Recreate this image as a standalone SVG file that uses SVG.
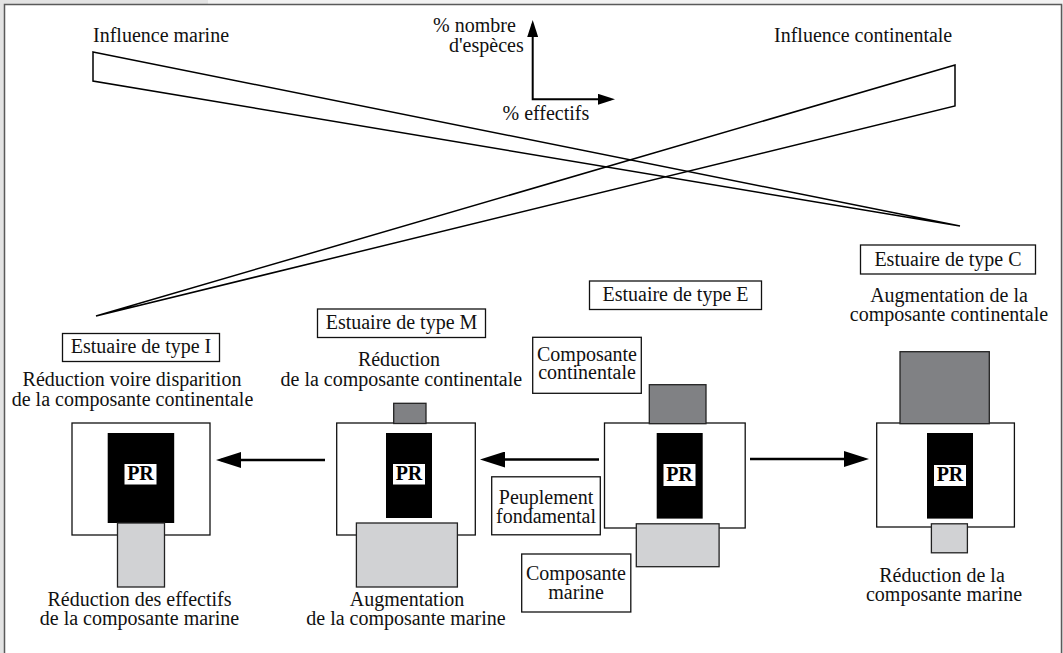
<svg xmlns="http://www.w3.org/2000/svg" width="1063" height="653" viewBox="0 0 1063 653">
<defs>
<style>
.t{font-family:"Liberation Serif","Times New Roman",serif;font-size:20px;fill:#111}
.c{text-anchor:middle}
.pr{font-family:"Liberation Serif","Times New Roman",serif;font-size:20px;font-weight:bold;fill:#000;text-anchor:middle}
.box{fill:#fff;stroke:#111;stroke-width:1.3}
.lbl{fill:#fff;stroke:#111;stroke-width:1.3}
.blk{fill:#000}
.prbg{fill:#fff}
.dg{fill:#808184;stroke:#222;stroke-width:1.3}
.lg{fill:#d1d2d4;stroke:#222;stroke-width:1.3}
.wedge{fill:none;stroke:#000;stroke-width:1.5;stroke-linejoin:miter}
.arr{fill:none;stroke:#000;stroke-width:2.6}
.ax{fill:none;stroke:#000;stroke-width:2}
</style>
<marker id="ah" viewBox="0 0 25 16" refX="20" refY="8" markerWidth="25" markerHeight="16" markerUnits="userSpaceOnUse" orient="auto">
<path d="M0,0 L25,8 L0,16 Z" fill="#000"/>
</marker>
<marker id="axh" viewBox="0 0 17 11" refX="13" refY="5.5" markerWidth="17" markerHeight="11" markerUnits="userSpaceOnUse" orient="auto-start-reverse">
<path d="M0,0 L17,5.5 L0,11 Z" fill="#000"/>
</marker>
</defs>

<rect x="0" y="0" width="1063" height="653" fill="#e3e3e3"/>
<rect x="208" y="0" width="855" height="5" fill="#f2f2f2"/>
<rect x="4.5" y="4.5" width="1057" height="670" fill="#fff" stroke="#5a5a5a" stroke-width="1.5"/>

<g id="influence-marine">
<text class="t" x="93" y="42">Influence marine</text>
<polygon class="wedge" points="93,52 960,226 93,81"/>
</g>
<g id="influence-continentale">
<text class="t" x="774" y="42">Influence continentale</text>
<polygon class="wedge" points="955,65 96,316 955,106"/>
</g>

<g id="axes-labels">
<text class="t" x="433" y="32">% nombre</text>
<text class="t" x="449" y="52">d'espèces</text>
<text class="t" x="502.5" y="120">% effectifs</text>
</g>

<g id="connectors">
<polyline class="ax" points="532.7,24 532.7,99.3 611,99.3" marker-start="url(#axh)" marker-end="url(#axh)"/>
<line class="arr" x1="325" y1="460" x2="221" y2="460" marker-end="url(#ah)"/>
<line class="arr" x1="599" y1="459.5" x2="485" y2="459.5" marker-end="url(#ah)"/>
<line class="arr" x1="750" y1="459" x2="864" y2="459" marker-end="url(#ah)"/>
</g>

<g id="estuaire-I">
<rect class="lbl" x="62.5" y="333.5" width="157" height="28"/>
<text class="t c" x="141" y="353">Estuaire de type I</text>
<text class="t c" x="132" y="386">Réduction voire disparition</text>
<text class="t c" x="132.5" y="405.5">de la composante continentale</text>
<rect class="box" x="72" y="423" width="138" height="112"/>
<rect class="blk" x="107.7" y="433" width="66.5" height="90"/>
<rect class="lg" x="117.5" y="523" width="47" height="64"/>
<rect class="prbg" x="124.5" y="464" width="32" height="20.5"/>
<text class="pr" x="140.5" y="480">PR</text>
<text class="t c" x="139.5" y="606">Réduction des effectifs</text>
<text class="t c" x="139.5" y="625">de la composante marine</text>
</g>

<g id="estuaire-M">
<rect class="lbl" x="317.5" y="309" width="168" height="28.5"/>
<text class="t c" x="401.5" y="329">Estuaire de type M</text>
<text class="t c" x="399" y="366">Réduction</text>
<text class="t c" x="401.3" y="385.5">de la composante continentale</text>
<rect class="box" x="336.7" y="423" width="138.6" height="112"/>
<rect class="dg" x="393.7" y="403.3" width="32.3" height="20.2"/>
<rect class="blk" x="386" y="433" width="46" height="85"/>
<rect class="lg" x="356.4" y="523" width="101" height="64"/>
<rect class="prbg" x="393" y="464" width="32" height="20.5"/>
<text class="pr" x="409" y="480">PR</text>
<text class="t c" x="407" y="606">Augmentation</text>
<text class="t c" x="406" y="625">de la composante marine</text>
</g>

<g id="estuaire-E">
<rect class="lbl" x="589.5" y="281" width="172" height="28.5"/>
<text class="t c" x="675.5" y="301">Estuaire de type E</text>
<rect class="box" x="604.5" y="423" width="140.7" height="105"/>
<rect class="dg" x="649.3" y="384.7" width="56.7" height="39"/>
<rect class="blk" x="656.7" y="433" width="46" height="85.6"/>
<rect class="lg" x="636.3" y="523.8" width="82.8" height="42.9"/>
<rect class="prbg" x="663.5" y="464" width="32" height="22"/>
<text class="pr" x="679.5" y="481">PR</text>
</g>

<g id="estuaire-C">
<rect class="lbl" x="860.5" y="245" width="175" height="29"/>
<text class="t c" x="948" y="266">Estuaire de type C</text>
<text class="t c" x="949" y="301.5">Augmentation de la</text>
<text class="t c" x="949" y="320.5">composante continentale</text>
<rect class="box" x="876.7" y="423" width="137.7" height="104"/>
<rect class="dg" x="900" y="351.7" width="89.3" height="72"/>
<rect class="blk" x="927" y="433" width="46" height="85.6"/>
<rect class="lg" x="931.4" y="523.8" width="36" height="29"/>
<rect class="prbg" x="934" y="465" width="32" height="21"/>
<text class="pr" x="950" y="481">PR</text>
<text class="t c" x="942" y="582">Réduction de la</text>
<text class="t c" x="944" y="601">composante marine</text>
</g>

<g id="label-composante-continentale">
<rect class="lbl" x="532.7" y="337.3" width="108.6" height="56"/>
<text class="t c" x="587" y="361">Composante</text>
<text class="t c" x="587" y="379">continentale</text>
</g>

<g id="label-peuplement-fondamental">
<rect class="lbl" x="491.7" y="476.8" width="108.6" height="58"/>
<text class="t c" x="546" y="504">Peuplement</text>
<text class="t c" x="546" y="523">fondamental</text>
</g>

<g id="label-composante-marine">
<rect class="lbl" x="521.7" y="554" width="109.1" height="58"/>
<text class="t c" x="576" y="580">Composante</text>
<text class="t c" x="576" y="599">marine</text>
</g>
</svg>
